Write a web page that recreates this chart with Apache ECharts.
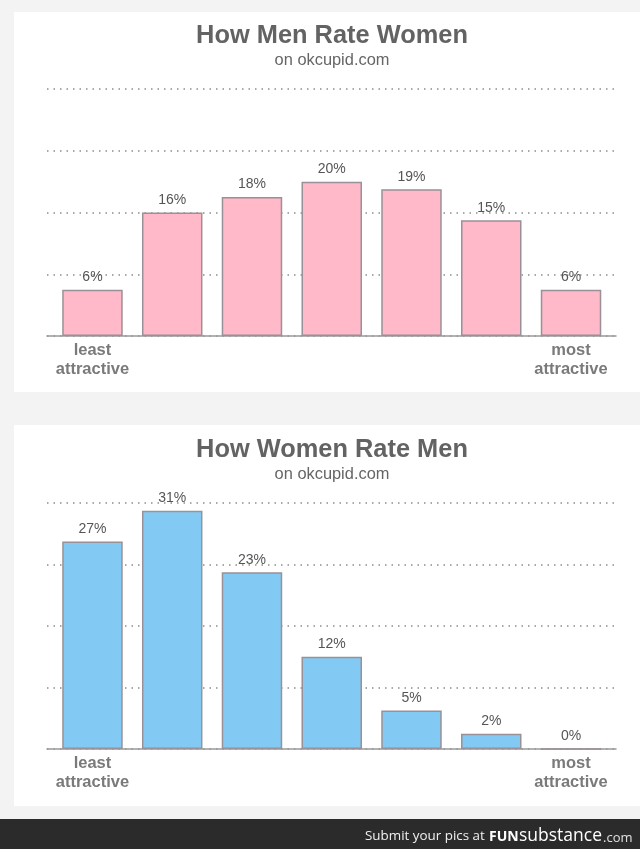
<!DOCTYPE html>
<html>
<head>
<meta charset="utf-8">
<style>html,body{margin:0;padding:0;background:#f3f3f3}#main{width:640px;height:849px}</style>
<script src="https://cdn.jsdelivr.net/npm/echarts@6/dist/echarts.min.js"></script>
</head>
<body>
<div id="main"></div>
<script>
var positions = [0, 1, 2, 3, 4, 5, 6];
var womenRatings = [6, 16, 18, 20, 19, 15, 6];
var menRatings = [27, 31, 23, 12, 5, 2, 0];
var tickLabels = ['least\nattractive', '', '', '', '', '', 'most\nattractive'];
var titles = ['How Men Rate Women', 'How Women Rate Men'];
var subtitle = 'on okcupid.com';

var chart = echarts.init(document.getElementById('main'), null, {renderer: 'canvas'});
var font = '"Liberation Sans", Arial, sans-serif';

function pairs(values) {
    return values.map(function (v, i) { return [positions[i], v]; });
}

function xAxis(gridIndex) {
    return {
        type: 'value',
        gridIndex: gridIndex,
        min: -0.57,
        max: 6.564,
        splitLine: {show: false},
        axisTick: {show: false},
        axisLine: {show: true, onZero: false, lineStyle: {color: '#999999', width: 1.5}},
        axisLabel: {
            customValues: [0, 6],
            margin: 5,
            lineHeight: 19,
            fontFamily: font,
            fontSize: 16.5,
            fontWeight: 'bold',
            color: '#7a7a7a',
            formatter: function (v) { return tickLabels[v]; }
        }
    };
}

function yAxis(gridIndex) {
    return {
        type: 'value',
        gridIndex: gridIndex,
        min: 0,
        max: 32,
        interval: 8,
        axisLine: {show: false},
        axisTick: {show: false},
        axisLabel: {show: false},
        splitLine: {show: true, lineStyle: {color: '#8c8c8c', width: 1.5, type: [1.5, 5]}}
    };
}

function bars(values, gridIndex, fill) {
    return {
        type: 'bar',
        xAxisIndex: gridIndex,
        yAxisIndex: gridIndex,
        data: pairs(values),
        barWidth: 60.5,
        itemStyle: {color: fill, borderColor: '#9a9097', borderWidth: 1.5},
        label: {
            show: true,
            position: 'top',
            distance: 5.5,
            fontFamily: font,
            fontSize: 14,
            color: '#555555',
            formatter: function (p) { return p.value[1] + '%'; }
        }
    };
}

function titleBlock(text, top) {
    return {
        text: text,
        subtext: subtitle,
        left: 327,
        top: top,
        textAlign: 'center',
        itemGap: 4,
        textStyle: {fontFamily: font, fontSize: 25.4, fontWeight: 'bold', color: '#636363'},
        subtextStyle: {fontFamily: font, fontSize: 16.4, color: '#666666'}
    };
}

var option = {
    animation: false,
    backgroundColor: '#f3f3f3',
    title: [titleBlock(titles[0], 18), titleBlock(titles[1], 432)],
    grid: [
        {left: 47, width: 569, top: 89, height: 247},
        {left: 47, width: 569, top: 503, height: 246}
    ],
    xAxis: [xAxis(0), xAxis(1)],
    yAxis: [yAxis(0), yAxis(1)],
    series: [
        bars(womenRatings, 0, '#ffb9c9'),
        bars(menRatings, 1, '#82caf3')
    ],
    graphic: [
        {type: 'rect', z: -10, shape: {x: 14, y: 12, width: 626, height: 380}, style: {fill: '#ffffff'}},
        {type: 'rect', z: -10, shape: {x: 14, y: 425, width: 626, height: 381}, style: {fill: '#ffffff'}},
        {type: 'rect', z: -10, shape: {x: 0, y: 819, width: 640, height: 30}, style: {fill: '#2b2b2b'}},
        {type: 'text', z: 10, style: {x: 365, y: 836, text: 'Submit your pics at', fill: '#f0f0f0', font: '13.4px "Open Sans", sans-serif', verticalAlign: 'middle'}},
        {type: 'text', z: 10, style: {x: 489, y: 837, text: 'FUN', fill: '#ffffff', font: 'bold 14px "Noto Sans", sans-serif', verticalAlign: 'middle'}},
        {type: 'text', z: 10, style: {x: 519, y: 836, text: 'substance', fill: '#ffffff', font: '17.5px "Open Sans", sans-serif', verticalAlign: 'middle'}},
        {type: 'text', z: 10, style: {x: 603, y: 838, text: '.com', fill: '#e0e0e0', font: '13px "Open Sans", sans-serif', verticalAlign: 'middle'}}
    ]
};

chart.setOption(option);
</script>
</body>
</html>
